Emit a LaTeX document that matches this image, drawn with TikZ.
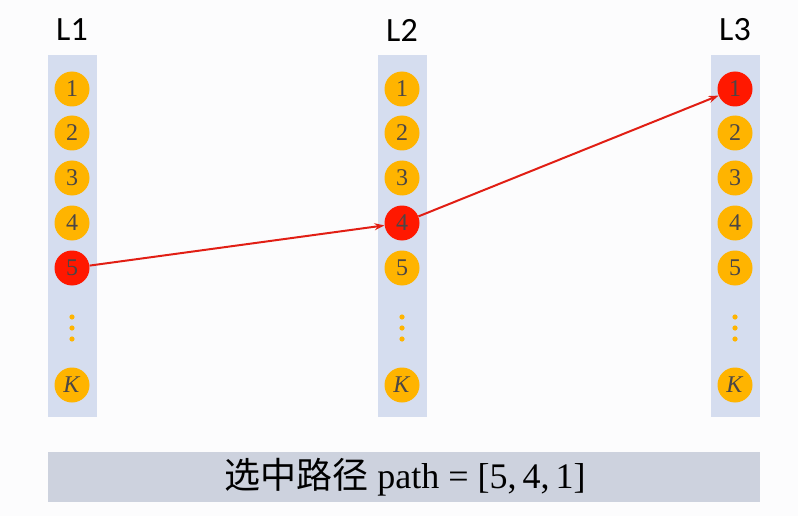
\documentclass[tikz,border=0pt]{standalone}
\usepackage{fontspec}
\setmainfont{Liberation Serif}
\setsansfont{Carlito}
\newfontfamily\cjk{Noto Sans CJK SC}
\usetikzlibrary{arrows.meta}

\definecolor{bgwhite}{RGB}{252,252,253}
\definecolor{colfill}{RGB}{213,221,239}
\definecolor{barfill}{RGB}{205,210,222}
\definecolor{ballorange}{RGB}{255,180,0}
\definecolor{ballred}{RGB}{255,24,0}
\definecolor{numgray}{RGB}{75,70,70}
\definecolor{linkred}{RGB}{225,30,20}

\begin{document}
\begin{tikzpicture}[x=1pt, y=-1pt,
    ball/.style={circle, fill=ballorange, minimum size=35pt, inner sep=0pt,
                 text=numgray, font=\fontsize{24}{24}\selectfont},
    hot/.style={ball, fill=ballred},
    layer/.style={font=\sffamily\fontsize{34}{34}\selectfont},
    link/.style={draw=linkred, line width=2pt, -{Stealth[length=10pt,width=7pt]}}]

    \useasboundingbox[fill=bgwhite] (0,0) rectangle (798,516);

    % three layers, each with one chosen node
    \foreach \c/\x/\h in {1/72/5, 2/402/4, 3/735/1} {
        \fill[colfill] (\x-24.5,55) rectangle (\x+24.5,417);
        \node[layer] (L\c) at (\x,30) {L\c};
        \foreach \r/\y in {1/89, 2/133, 3/178, 4/223, 5/268} {
            \ifnum\r=\h \def\sty{hot}\else \def\sty{ball}\fi
            \node[\sty] (n\c-\r) at (\x,\y) {\r};
        }
        \foreach \y in {317, 328, 339}
            \fill[ballorange] (\x,\y) circle (2.6pt);
        \node[ball] (n\c-K) at (\x,385) {\textit{K}};
    }

    \draw[link] (n1-5) -- (n2-4);
    \draw[link] (n2-4) -- (n3-1);

    % selected path
    \fill[barfill] (48,452) rectangle (760,502);
    \node[font=\fontsize{36}{36}\selectfont] (path) at (405,477)
        {{\cjk 选中路径} path = [5,\,4,\,1]};

\end{tikzpicture}
\end{document}
